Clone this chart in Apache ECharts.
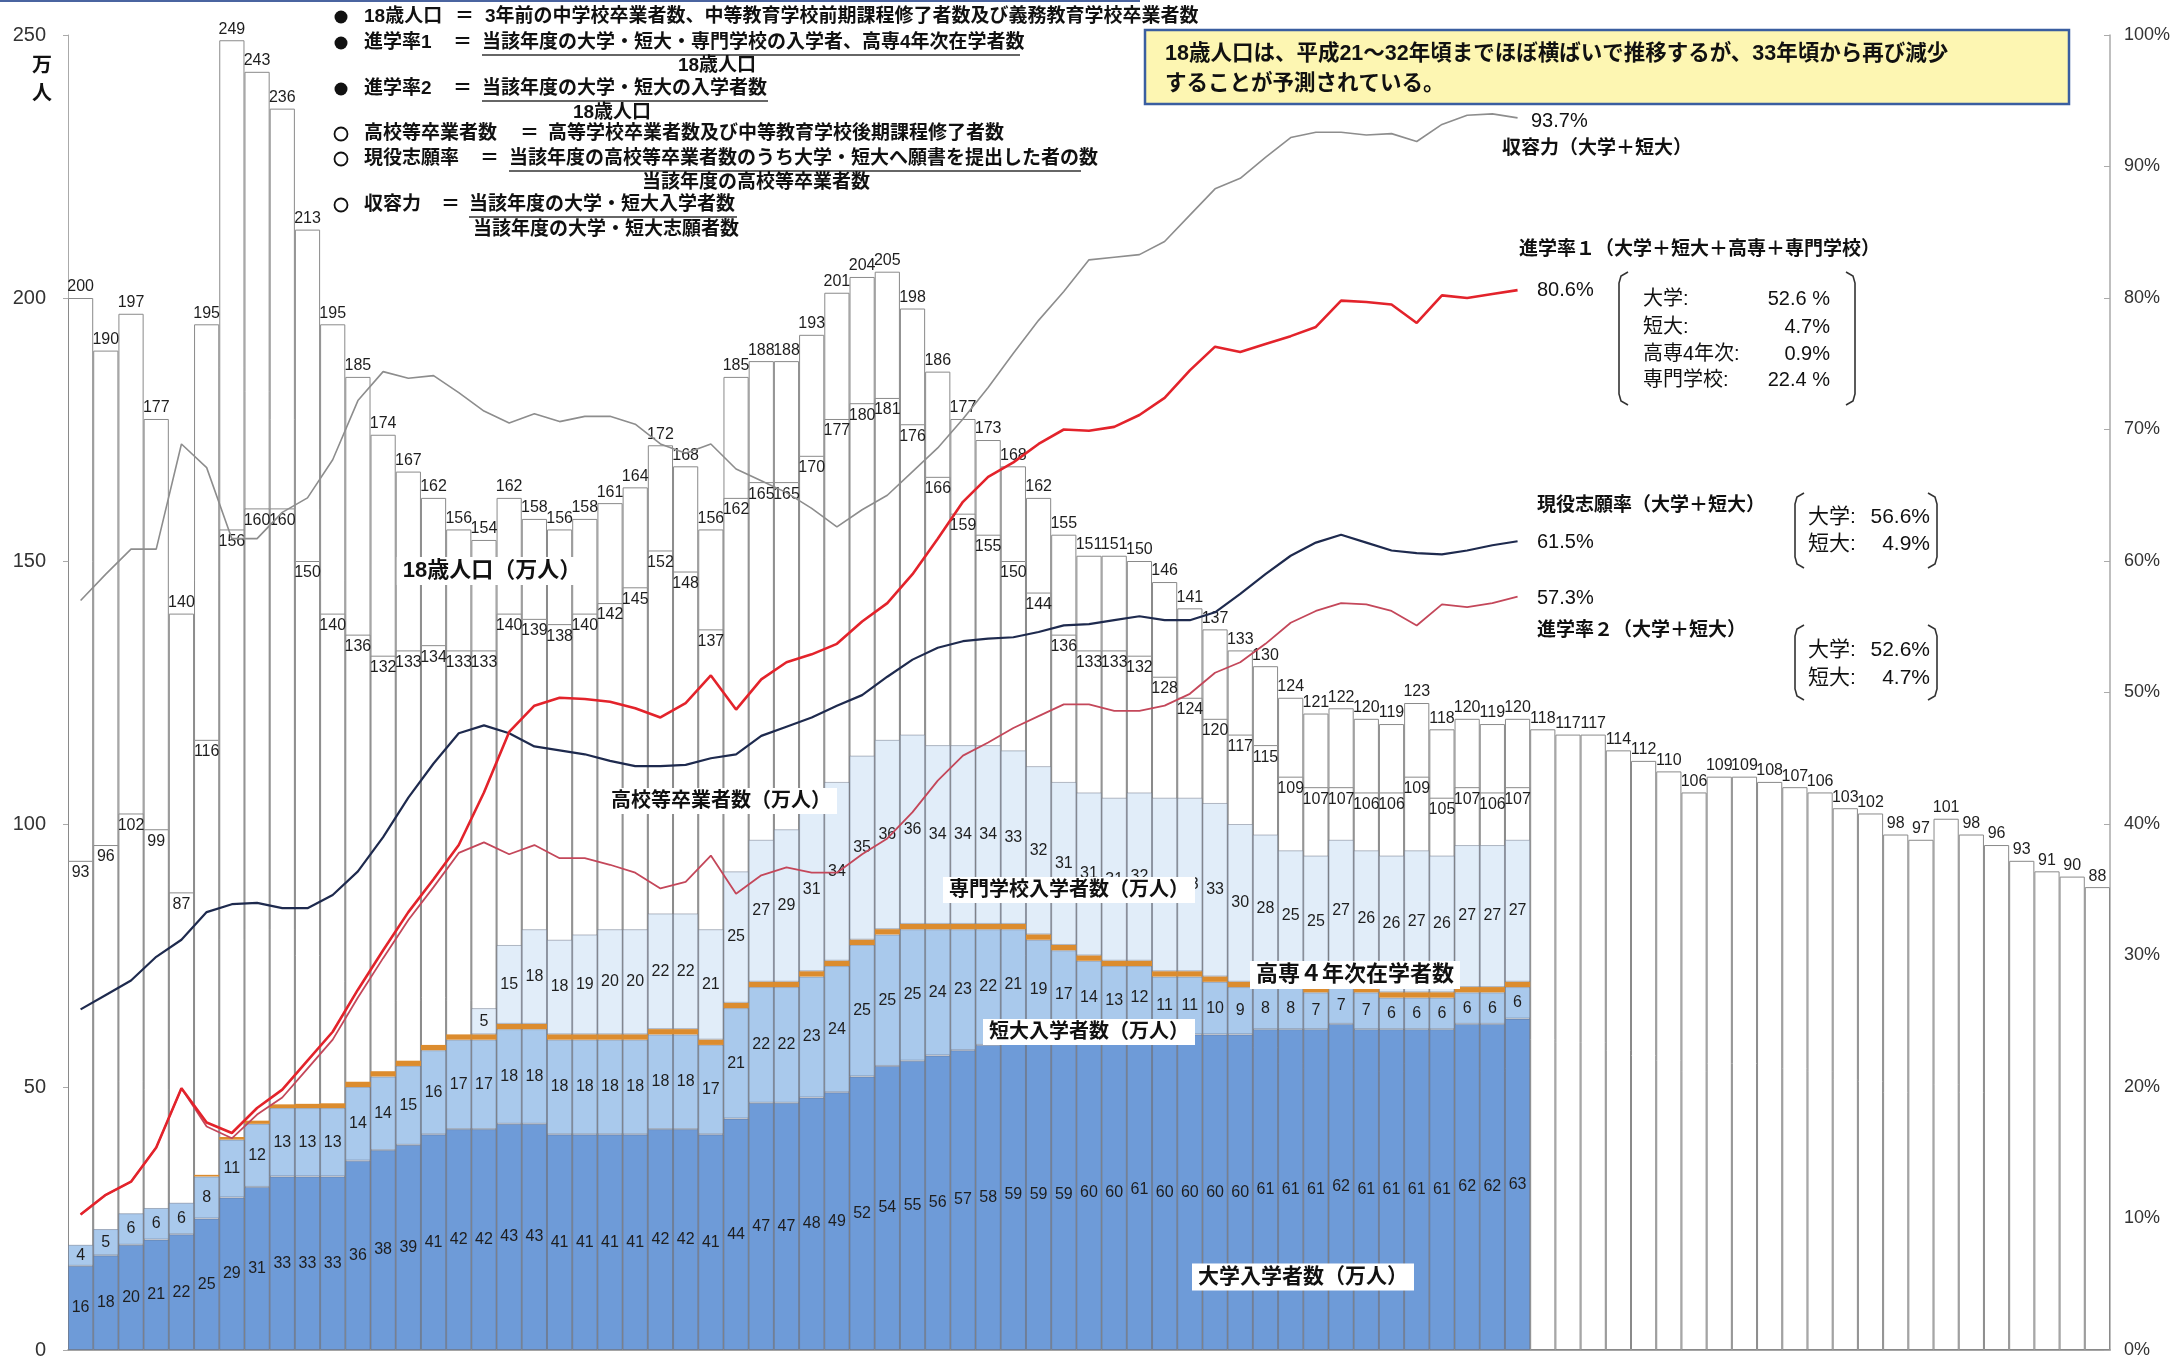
<!DOCTYPE html>
<html>
<head>
<meta charset="utf-8">
<script src="https://cdn.jsdelivr.net/npm/echarts/dist/echarts.min.js"></script>
<style>
html, body { margin: 0; padding: 0; background: #fff; }
#chart { width: 2174px; height: 1360px; }
</style>
</head>
<body>
<div id="chart"></div>
<script>
// years 1960 - 2040 (actual to 2017, projection after)
const years = ['1960','1961','1962','1963','1964','1965','1966','1967','1968','1969',
  '1970','1971','1972','1973','1974','1975','1976','1977','1978','1979',
  '1980','1981','1982','1983','1984','1985','1986','1987','1988','1989',
  '1990','1991','1992','1993','1994','1995','1996','1997','1998','1999',
  '2000','2001','2002','2003','2004','2005','2006','2007','2008','2009',
  '2010','2011','2012','2013','2014','2015','2016','2017','2018','2019',
  '2020','2021','2022','2023','2024','2025','2026','2027','2028','2029',
  '2030','2031','2032','2033','2034','2035','2036','2037','2038','2039','2040'];

// 万人
const pop18 = [200,190,197,177,140,195,249,243,236,213,
  195,185,174,167,162,156,154,162,158,156,
  158,161,164,172,168,156,185,188,188,193,
  201,204,205,198,186,177,173,168,162,155,
  151,151,150,146,141,137,133,130,124,121,
  122,120,119,123,118,120,119,120,118,117,
  117,114,112,110,106,109,109,108,107,106,
  103,102,98,97,101,98,96,93,91,90,88];

const hsGrad = [93,96,102,99,87,116,156,160,160,150,
  140,136,132,133,134,133,133,140,139,138,
  140,142,145,152,148,137,162,165,165,170,
  177,180,181,176,166,159,155,150,144,136,
  133,133,132,128,124,120,117,115,109,107,
  107,106,106,109,105,107,106,107];

const univ = [16,18,20,21,22,25,29,31,33,33,
  33,36,38,39,41,42,42,43,43,41,
  41,41,41,42,42,41,44,47,47,48,
  49,52,54,55,56,57,58,59,59,59,
  60,60,61,60,60,60,60,61,61,61,
  62,61,61,61,61,62,62,63];

const juniorCol = [4,5,6,6,6,8,11,12,13,13,
  13,14,14,15,16,17,17,18,18,18,
  18,18,18,18,18,17,21,22,22,23,
  24,25,25,25,24,23,22,21,19,17,
  14,13,12,11,11,10,9,8,8,7,
  7,7,6,6,6,6,6,6];

const kosen4 = [0,0,0,0,0,0.3,0.5,0.6,0.7,0.8,
  0.9,1,1,1,1,1,1,1,1,1,
  1,1,1,1,1,1,1,1,1,1,
  1,1,1,1,1,1,1,1,1,1,
  1,1,1,1,1,1,1,1,1,1,
  1,1,1,1,1,1,1,1];

const senmon = [null,null,null,null,null,null,null,null,null,null,
  null,null,null,null,null,null,5,15,18,18,
  19,20,20,22,22,21,25,27,29,31,
  34,35,36,36,34,34,34,33,32,31,
  31,31,32,33,33,33,30,28,25,25,
  27,26,26,27,26,27,27,27];

// %
const capacity = [57.0,59.0,60.9,60.9,68.9,67.1,61.7,61.7,63.7,64.8,
  67.7,72.2,74.4,73.9,74.1,72.8,71.4,70.5,71.2,70.6,
  71.0,71.0,70.4,68.9,68.2,68.9,67.0,66.1,65.2,64.0,
  62.6,63.9,65.0,66.8,68.6,70.8,73.2,75.8,78.3,80.5,
  82.9,83.1,83.3,84.3,86.3,88.3,89.1,90.7,92.2,92.6,
  92.6,92.4,92.5,91.9,93.2,93.9,94.0,93.7];

const rateOne = [10.3,11.8,12.8,15.4,19.9,17.3,16.5,18.4,19.8,22.0,
  24.2,27.4,30.4,33.3,35.8,38.4,42.4,47.0,49.0,49.6,
  49.5,49.3,48.8,48.1,49.2,51.3,48.7,51.0,52.3,52.9,
  53.7,55.4,56.8,59.0,61.7,64.5,66.4,67.5,68.9,70.0,
  69.9,70.2,71.1,72.4,74.5,76.3,75.9,76.5,77.1,77.8,
  79.8,79.7,79.5,78.1,80.2,80.0,80.3,80.6];

const applyRate = [25.9,27.0,28.1,29.9,31.2,33.3,33.9,34.0,33.6,33.6,
  34.6,36.4,39.0,42.0,44.6,46.9,47.5,46.9,45.9,45.6,
  45.3,44.8,44.4,44.4,44.5,45.0,45.3,46.7,47.4,48.1,
  49.0,49.8,51.2,52.5,53.4,53.9,54.1,54.2,54.6,55.1,
  55.2,55.5,55.8,55.5,55.5,56.1,57.5,59.0,60.4,61.4,
  62.0,61.4,60.8,60.6,60.5,60.8,61.2,61.5];

const rateTwo = [10.3,11.8,12.8,15.4,19.9,17.0,16.1,17.9,19.2,21.4,
  23.6,26.8,29.8,32.7,35.2,37.8,38.6,37.7,38.4,37.4,
  37.4,36.9,36.3,35.1,35.6,37.6,34.7,36.1,36.7,36.3,
  36.3,37.7,38.9,40.9,43.3,45.2,46.2,47.3,48.2,49.1,
  49.1,48.6,48.6,49.0,49.9,51.5,52.3,53.7,55.3,56.2,
  56.8,56.7,56.2,55.1,56.7,56.5,56.8,57.3];

const leftTicks = [0, 250, 50];
const rightTicks = [0, 100, 10];

const FONT = '"Liberation Sans", Arial, "Noto Sans CJK JP", sans-serif';

function txt(x, y, s, size, extra) {
  return {
    type: 'text', z: 100, x: x, y: y,
    style: Object.assign({
      text: s, fontSize: size, fontFamily: FONT, fill: '#111',
      align: 'left', textAlign: 'left', verticalAlign: 'middle', textVerticalAlign: 'middle'
    }, extra || {})
  };
}
function ctxt(x, y, s, size, extra) {
  return txt(x, y, s, size, Object.assign({align: 'center', textAlign: 'center'}, extra || {}));
}
function rtxt(x, y, s, size, extra) {
  return txt(x, y, s, size, Object.assign({align: 'right', textAlign: 'right'}, extra || {}));
}
function hline(x1, x2, y, col, w) {
  return {type: 'line', z: 100, shape: {x1: x1, y1: y, x2: x2, y2: y}, style: {stroke: col || '#222', lineWidth: w || 1.2}};
}
function dot(cx, cy, filled) {
  return {type: 'circle', z: 100, shape: {cx: cx, cy: cy, r: 6.5},
    style: filled ? {fill: '#111'} : {fill: '#fff', stroke: '#111', lineWidth: 1.8}};
}
function bracket(x1, x2, y1, y2) {
  const r = 9;
  return [
    {type: 'polyline', z: 100, shape: {points: [[x1 + r, y1], [x1 + 2, y1 + 4], [x1, y1 + r + 2], [x1, y2 - r - 2], [x1 + 2, y2 - 4], [x1 + r, y2]]},
      style: {stroke: '#333', lineWidth: 1.6, fill: null}},
    {type: 'polyline', z: 100, shape: {points: [[x2 - r, y1], [x2 - 2, y1 + 4], [x2, y1 + r + 2], [x2, y2 - r - 2], [x2 - 2, y2 - 4], [x2 - r, y2]]},
      style: {stroke: '#333', lineWidth: 1.6, fill: null}}
  ];
}
const bold = {fontWeight: 'bold'};
const boxed = {backgroundColor: '#fff', padding: [3, 6], fontWeight: 'bold'};

const graphics = [];
// top thin frame line
graphics.push(hline(0, 1140, 1, '#4a64a0', 2));

// definitions block
const LG = 19;
const defRows = [
  [17, true, '18歳人口', 455, 485, '3年前の中学校卒業者数、中等教育学校前期課程修了者数及び義務教育学校卒業者数', null],
  [43, true, '進学率1', 453, 482, '当該年度の大学・短大・専門学校の入学者、高専4年次在学者数', 1020],
  [89, true, '進学率2', 453, 482, '当該年度の大学・短大の入学者数', 768],
  [134, false, '高校等卒業者数', 520, 548, '高等学校卒業者数及び中等教育学校後期課程修了者数', null],
  [159, false, '現役志願率', 480, 509, '当該年度の高校等卒業者数のうち大学・短大へ願書を提出した者の数', 1081],
  [205, false, '収容力', 441, 469, '当該年度の大学・短大入学者数', 737]
];
defRows.forEach(function (r) {
  graphics.push(dot(341, r[0], r[1]));
  graphics.push(txt(364, r[0], r[2], LG, bold));
  graphics.push(txt(r[3], r[0], '＝', LG, bold));
  graphics.push(txt(r[4], r[0], r[5], LG, bold));
  if (r[6]) graphics.push(hline(r[4], r[6], r[0] + 12, '#333', 1.3));
});
graphics.push(ctxt(717, 66, '18歳人口', LG, bold));
graphics.push(ctxt(612, 113, '18歳人口', LG, bold));
graphics.push(ctxt(756, 183, '当該年度の高校等卒業者数', LG, bold));
graphics.push(ctxt(606, 230, '当該年度の大学・短大志願者数', LG, bold));

// yellow note box
graphics.push({type: 'rect', z: 99, shape: {x: 1145, y: 30, width: 924, height: 74},
  style: {fill: '#fdf6b2', stroke: '#3a5ea0', lineWidth: 2.5}});
graphics.push(txt(1165, 54, '18歳人口は、平成21～32年頃までほぼ横ばいで推移するが、33年頃から再び減少', 21.5, bold));
graphics.push(txt(1165, 84, 'することが予測されている。', 21.5, bold));

// right side annotations
const RA = 19;
graphics.push(txt(1531, 121, '93.7%', 20));
graphics.push(txt(1502, 149, '収容力（大学＋短大）', RA, bold));
graphics.push(txt(1519, 250, '進学率１（大学＋短大＋高専＋専門学校）', RA, bold));
graphics.push(txt(1537, 290, '80.6%', 20));
graphics.push.apply(graphics, bracket(1619, 1855, 272, 405));
[['大学:', '52.6 %', 299], ['短大:', '4.7%', 327], ['高専4年次:', '0.9%', 354], ['専門学校:', '22.4 %', 380]].forEach(function (r) {
  graphics.push(txt(1643, r[2], r[0], 20));
  graphics.push(rtxt(1830, r[2], r[1], 20));
});
graphics.push(txt(1537, 506, '現役志願率（大学＋短大）', RA, bold));
graphics.push(txt(1537, 542, '61.5%', 20));
graphics.push.apply(graphics, bracket(1795, 1937, 493, 568));
graphics.push(txt(1808, 517, '大学:', 21));
graphics.push(rtxt(1930, 517, '56.6%', 21));
graphics.push(txt(1808, 544, '短大:', 21));
graphics.push(rtxt(1930, 544, '4.9%', 21));
graphics.push(txt(1537, 598, '57.3%', 20));
graphics.push(txt(1537, 631, '進学率２（大学＋短大）', RA, bold));
graphics.push.apply(graphics, bracket(1795, 1937, 625, 700));
graphics.push(txt(1808, 650, '大学:', 21));
graphics.push(rtxt(1930, 650, '52.6%', 21));
graphics.push(txt(1808, 678, '短大:', 21));
graphics.push(rtxt(1930, 678, '4.7%', 21));

// series name tags
graphics.push(ctxt(492, 571, '18歳人口（万人）', 22, boxed));
graphics.push(ctxt(721, 801, '高校等卒業者数（万人）', 20, boxed));
graphics.push(ctxt(1069, 890, '専門学校入学者数（万人）', 20, boxed));
graphics.push(ctxt(1355, 975, '高専４年次在学者数', 22, boxed));
graphics.push(ctxt(1089, 1032, '短大入学者数（万人）', 20, boxed));
graphics.push(ctxt(1303, 1277, '大学入学者数（万人）', 21, boxed));

// unit of left axis
graphics.push(ctxt(42, 66, '万', 20, bold));
graphics.push(ctxt(42, 94, '人', 20, bold));

const numLabel = {show: true, fontSize: 16, color: '#1e1e1e', fontFamily: FONT};
const barCommon = {type: 'bar', barGap: '-100%', barCategoryGap: '0%'};
const colBorder = {borderColor: 'rgba(95,105,125,0.45)', borderWidth: 1};

const option = {
  animation: false,
  backgroundColor: '#fff',
  textStyle: {fontFamily: FONT},
  grid: {left: 68, right: 64, top: 35, bottom: 7, containLabel: false},
  xAxis: {
    type: 'category', data: years,
    axisLabel: {show: false}, axisTick: {show: false},
    axisLine: {show: true, lineStyle: {color: '#888', width: 1.5}}
  },
  yAxis: [
    {
      type: 'value', min: leftTicks[0], max: leftTicks[1], interval: leftTicks[2],
      axisLine: {show: true, lineStyle: {color: '#aaa'}},
      axisTick: {show: true, length: 5, lineStyle: {color: '#aaa'}},
      axisLabel: {fontSize: 20, color: '#333', margin: 22, fontFamily: FONT},
      splitLine: {show: false}
    },
    {
      type: 'value', min: rightTicks[0], max: rightTicks[1], interval: rightTicks[2], position: 'right',
      axisLine: {show: true, lineStyle: {color: '#aaa', width: 1.5}},
      axisTick: {show: true, inside: true, length: 6, lineStyle: {color: '#aaa'}},
      axisLabel: {fontSize: 18, color: '#333', margin: 14, formatter: '{value}%', fontFamily: FONT},
      splitLine: {show: false}
    }
  ],
  series: [
    Object.assign({}, barCommon, {
      name: '18歳人口', data: pop18, z: 1,
      itemStyle: {color: '#fff', borderColor: '#8a8a8a', borderWidth: 1},
      label: Object.assign({}, numLabel, {position: 'top', distance: 3})
    }),
    Object.assign({}, barCommon, {
      name: '高校等卒業者数', data: hsGrad, z: 2,
      itemStyle: {color: '#fff', borderColor: '#8a8a8a', borderWidth: 1},
      label: Object.assign({}, numLabel, {position: 'insideTop', distance: 4})
    }),
    Object.assign({}, barCommon, {
      name: '大学入学者数', data: univ, stack: 'enrol', z: 3,
      itemStyle: Object.assign({color: '#6e9bd8'}, colBorder),
      label: Object.assign({}, numLabel, {position: 'inside'})
    }),
    Object.assign({}, barCommon, {
      name: '短大入学者数', data: juniorCol, stack: 'enrol', z: 3,
      itemStyle: Object.assign({color: '#a9c9ec'}, colBorder),
      label: Object.assign({}, numLabel, {position: 'inside'})
    }),
    Object.assign({}, barCommon, {
      name: '高専4年次在学者数', data: kosen4, stack: 'enrol', z: 3,
      itemStyle: {color: '#dc8c2e', borderWidth: 0}
    }),
    Object.assign({}, barCommon, {
      name: '専門学校入学者数', data: senmon, stack: 'enrol', z: 3,
      itemStyle: Object.assign({color: '#e1edf9'}, colBorder),
      label: Object.assign({}, numLabel, {position: 'inside'})
    }),
    {
      name: '収容力', type: 'line', yAxisIndex: 1, data: capacity, z: 6,
      symbol: 'none', lineStyle: {color: '#8d8d8d', width: 1.6}
    },
    {
      name: '進学率2', type: 'line', yAxisIndex: 1, data: rateTwo, z: 6,
      symbol: 'none', lineStyle: {color: '#c4475a', width: 1.8}
    },
    {
      name: '現役志願率', type: 'line', yAxisIndex: 1, data: applyRate, z: 6,
      symbol: 'none', lineStyle: {color: '#1e2a4e', width: 2.2}
    },
    {
      name: '進学率1', type: 'line', yAxisIndex: 1, data: rateOne, z: 7,
      symbol: 'none', lineStyle: {color: '#e3232b', width: 2.6}
    }
  ],
  graphic: graphics
};

const chart = echarts.init(document.getElementById('chart'));
chart.setOption(option);
</script>
</body>
</html>
